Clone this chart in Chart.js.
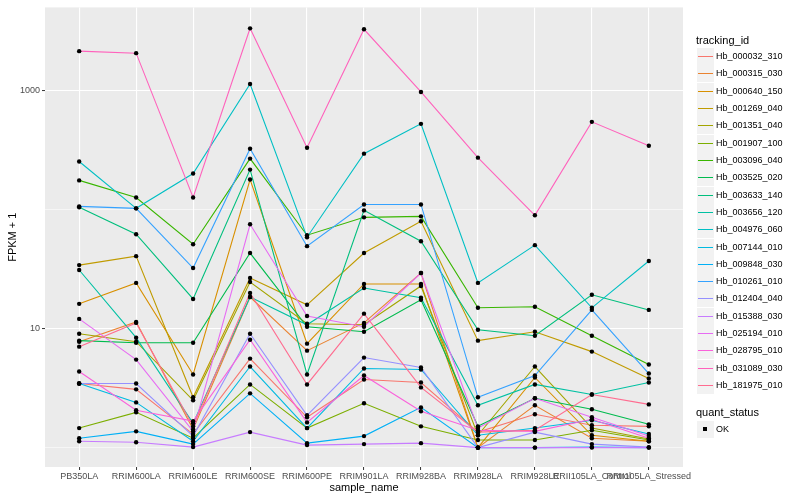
<!DOCTYPE html>
<html>
<head>
<meta charset="utf-8">
<script src="https://cdn.jsdelivr.net/npm/chart.js@4.4.1/dist/chart.umd.min.js"></script>
<style>
  body { margin: 0; background: #fff; font-family: "Liberation Sans", Arial, sans-serif; }
  #wrap { position: relative; width: 800px; height: 500px; }
  .ttl { position: absolute; left: 696px; font-size: 11px; line-height: 13px; color: #000; white-space: nowrap; }
  .key { position: absolute; left: 697px; width: 17px; height: 17px; background: #F2F2F2; }
  .key .ln { position: absolute; left: 1px; right: 1px; top: 8px; height: 1px; }
  .key .pt { position: absolute; left: 6px; top: 6px; width: 4px; height: 4px; background: #000; }
  .lab { position: absolute; left: 716px; font-size: 9px; line-height: 11px; color: #000; white-space: nowrap; }
</style>
</head>
<body>
<div id="wrap">
  <canvas id="chart" width="800" height="500"></canvas>
  <div id="legend"></div>
</div>
<script>
// categories on the x axis
const categories = ['PB350LA', 'RRIM600LA', 'RRIM600LE', 'RRIM600SE', 'RRIM600PE', 'RRIM901LA',
                    'RRIM928BA', 'RRIM928LA', 'RRIM928LE', 'RRII105LA_Control', 'RRII105LA_Stressed'];

// FPKM + 1 per gene, one value per category
const hb_000032_310 = [3.46, 3.09, 1.30, 5.61, 1.80, 3.74, 3.53, 1.35, 1.91, 1.54, 1.51];
const hb_000315_030 = [7.78, 11.4, 1.43, 18.5, 6.54, 11.2, 29.4, 1.0, 2.27, 1.20, 1.13];
const hb_000640_150 = [16.2, 24.3, 4.12, 180, 7.49, 23.8, 23.8, 1.0, 3.89, 1.27, 1.13];
const hb_001269_040 = [34.3, 40.8, 2.65, 26.7, 15.9, 43.3, 80.1, 7.94, 9.44, 6.42, 3.82];
const hb_001351_040 = [9.08, 7.78, 2.50, 24.7, 11.0, 10.8, 22.9, 1.27, 4.81, 1.46, 1.18];
const hb_001907_100 = [1.46, 1.98, 1.20, 3.40, 1.46, 2.36, 1.51, 1.16, 1.16, 1.40, 1.16];
const hb_003096_040 = [177, 127, 51.4, 270, 61.2, 86.5, 88.2, 15.0, 15.3, 8.74, 5.00];
const hb_003525_020 = [7.94, 7.63, 7.63, 43.3, 10.4, 9.44, 17.5, 1.51, 2.60, 2.10, 1.57];
const hb_003633_140 = [105, 62.4, 17.8, 218, 4.12, 99, 54.5, 9.81, 8.74, 19.3, 14.4];
const hb_003656_120 = [31.2, 8.41, 1.60, 18.5, 10.8, 22.0, 18.2, 2.27, 3.40, 2.80, 3.53];
const hb_004976_060 = [255, 103, 202, 1144, 58.9, 297, 529, 24.3, 50.5, 15.0, 37.1];
const hb_007144_010 = [3.46, 2.40, 1.13, 4.81, 1.46, 4.63, 4.54, 1.27, 1.46, 1.70, 1.30];
const hb_009848_030 = [1.20, 1.37, 1.07, 2.86, 1.09, 1.25, 2.18, 1.0, 1.0, 1.01, 1.0];
const hb_010261_010 = [107, 103, 32.4, 327, 49.5, 111, 111, 2.65, 4.04, 14.4, 4.20];
const hb_012404_040 = [3.46, 3.46, 1.25, 9.08, 1.87, 5.72, 4.72, 1.0, 1.35, 1.07, 1.01];
const hb_015388_030 = [1.13, 1.11, 1.01, 1.35, 1.05, 1.07, 1.09, 1.0, 1.0, 1.0, 1.0];
const hb_025194_010 = [12.1, 5.50, 1.37, 75.6, 12.8, 10.4, 29.4, 1.46, 2.60, 1.80, 1.25];
const hb_028795_010 = [4.37, 2.06, 1.67, 8.09, 1.63, 4.04, 2.02, 1.40, 1.37, 1.73, 1.20];
const hb_031089_030 = [2163, 2080, 127, 3365, 333, 3303, 981, 275, 90, 550, 346];
const hb_181975_010 = [7.07, 11.2, 1.51, 20.0, 3.40, 13.4, 3.21, 1.35, 1.40, 2.80, 2.31];

const trackingIds = ['Hb_000032_310', 'Hb_000315_030', 'Hb_000640_150', 'Hb_001269_040', 'Hb_001351_040',
                     'Hb_001907_100', 'Hb_003096_040', 'Hb_003525_020', 'Hb_003633_140', 'Hb_003656_120',
                     'Hb_004976_060', 'Hb_007144_010', 'Hb_009848_030', 'Hb_010261_010', 'Hb_012404_040',
                     'Hb_015388_030', 'Hb_025194_010', 'Hb_028795_010', 'Hb_031089_030', 'Hb_181975_010'];
const seriesValues = [hb_000032_310, hb_000315_030, hb_000640_150, hb_001269_040, hb_001351_040,
                      hb_001907_100, hb_003096_040, hb_003525_020, hb_003633_140, hb_003656_120,
                      hb_004976_060, hb_007144_010, hb_009848_030, hb_010261_010, hb_012404_040,
                      hb_015388_030, hb_025194_010, hb_028795_010, hb_031089_030, hb_181975_010];

// y axis: grid lines at these values, labels only on the major ones
const yGridValues = [1, 10, 100, 1000];
const yLabelValues = [10, 1000];

const colors = ['#F8766D', '#EA8331', '#D89000', '#C09B00', '#A3A500', '#7CAE00', '#39B600', '#00BB4E',
                '#00BF7D', '#00C1A3', '#00BFC4', '#00BAE0', '#00B0F6', '#35A2FF', '#9590FF', '#C77CFF',
                '#E76BF3', '#FA62DB', '#FF62BC', '#FF6C90'];

const panelBg = {
  id: 'panelBg',
  beforeDraw(chart) {
    const { ctx, chartArea: a } = chart;
    ctx.save();
    ctx.fillStyle = '#EBEBEB';
    ctx.fillRect(a.left, a.top, a.right - a.left, a.bottom - a.top);
    ctx.restore();
  }
};

const datasets = seriesValues.map((vals, i) => ({
  type: 'line',
  label: trackingIds[i],
  data: vals.map((v, j) => ({ x: j, y: v })),
  borderColor: colors[i],
  borderWidth: 1.1,
  pointRadius: 0,
  tension: 0,
  order: seriesValues.length - i
}));

// all points in black, drawn on top of every line
const allPoints = [];
seriesValues.forEach(vals => vals.forEach((v, j) => allPoints.push({ x: j, y: v })));
datasets.push({
  type: 'scatter',
  label: 'OK',
  data: allPoints,
  backgroundColor: '#000',
  borderWidth: 0,
  pointRadius: 2.2,
  order: 0
});

const tickFont = { family: '"Liberation Sans", Arial, sans-serif', size: 9 };
const titleFont = { family: '"Liberation Sans", Arial, sans-serif', size: 11 };

new Chart(document.getElementById('chart'), {
  data: { datasets: datasets },
  plugins: [panelBg],
  options: {
    responsive: false,
    animation: false,
    events: [],
    layout: { padding: { top: 5, right: 117, left: 0, bottom: 0 } },
    plugins: { legend: { display: false }, tooltip: { enabled: false } },
    scales: {
      x: {
        type: 'linear',
        min: -0.6,
        max: 10.6,
        afterBuildTicks: s => { s.ticks = categories.map((c, i) => ({ value: i })); },
        afterFit: s => { s.height = 33; },
        ticks: {
          autoSkip: false, maxRotation: 0, minRotation: 0,
          font: tickFont, color: '#4D4D4D', padding: 1,
          callback: v => categories[v]
        },
        grid: { color: '#FFFFFF', lineWidth: 1.1, tickColor: '#333333', tickLength: 3, tickWidth: 1 },
        border: { display: false },
        title: { display: true, text: 'sample_name', font: titleFont, color: '#000', padding: { top: 0, bottom: 5 } }
      },
      y: {
        type: 'logarithmic',
        min: 0.687,
        max: 5047,
        afterBuildTicks: s => { s.ticks = yGridValues.map(v => ({ value: v })); },
        afterFit: s => { s.width = 45; },
        ticks: {
          font: tickFont, color: '#4D4D4D', padding: 2,
          callback: v => yLabelValues.includes(v) ? String(v) : ''
        },
        grid: {
          color: '#FFFFFF',
          lineWidth: c => yLabelValues.includes(c.tick.value) ? 1.1 : 0.55,
          tickColor: c => yLabelValues.includes(c.tick.value) ? '#333333' : 'rgba(0,0,0,0)',
          tickLength: 3,
          tickWidth: 1
        },
        border: { display: false },
        title: { display: true, text: 'FPKM + 1', font: titleFont, color: '#000', padding: { top: 6, bottom: 0 } }
      }
    }
  }
});

// ggplot-style legend on the right
const legend = document.getElementById('legend');
function add(html) { legend.insertAdjacentHTML('beforeend', html); }
add('<div class="ttl" style="top:34px">tracking_id</div>');
trackingIds.forEach((id, i) => {
  const top = Math.round(48 + i * 17.32);
  add('<div class="key" style="top:' + top + 'px"><div class="ln" style="background:' + colors[i] + '"></div></div>');
  add('<div class="lab" style="top:' + (top + 3) + 'px">' + id + '</div>');
});
add('<div class="ttl" style="top:406px">quant_status</div>');
add('<div class="key" style="top:421px"><div class="pt"></div></div>');
add('<div class="lab" style="top:424px">OK</div>');
</script>
</body>
</html>
